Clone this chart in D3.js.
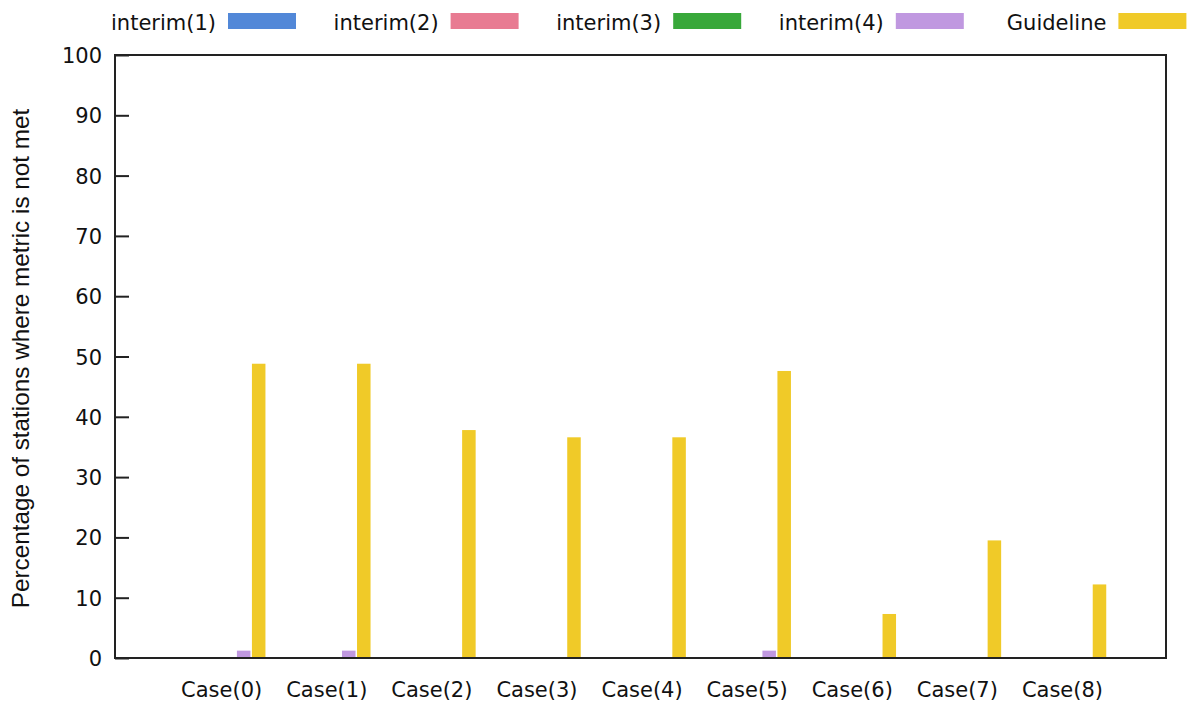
<!DOCTYPE html>
<html>
<head>
<meta charset="utf-8">
<script src="https://cdn.jsdelivr.net/npm/d3@7"></script>
<style>
  html, body { margin: 0; padding: 0; background: #fff; }
  svg { display: block; }
  text { fill: #111; }
</style>
</head>
<body>
<svg id="chart" width="1191" height="706"></svg>
<script>
// Categories along the x axis
const categories = ["Case(0)", "Case(1)", "Case(2)", "Case(3)", "Case(4)", "Case(5)", "Case(6)", "Case(7)", "Case(8)"];

// Series names and their values (percent of stations where metric is not met)
const seriesNames = ["interim(1)", "interim(2)", "interim(3)", "interim(4)", "Guideline"];
const interim1 = [0, 0, 0, 0, 0, 0, 0, 0, 0];
const interim2 = [0, 0, 0, 0, 0, 0, 0, 0, 0];
const interim3 = [0, 0, 0, 0, 0, 0, 0, 0, 0];
const interim4 = [1.22, 1.22, 0, 0, 0, 1.22, 0, 0, 0];
const guideline = [48.8, 48.8, 37.8, 36.6, 36.6, 47.6, 7.3, 19.5, 12.2];
const seriesValues = [interim1, interim2, interim3, interim4, guideline];
const seriesColors = ["#5288d8", "#e87b92", "#38a83a", "#c098e0", "#f0ca28"];

// Y axis tick labels
const yTicks = [0, 10, 20, 30, 40, 50, 60, 70, 80, 90, 100];

const svg = d3.select("#chart");
const plot = { left: 115, right: 1166, top: 55, bottom: 658 };

// Clustered histogram layout: each cluster occupies (series + gap) slots
const nSeries = seriesNames.length;
const gap = 2;
const clusterWidth = nSeries + gap;

// x range spans one extra cluster so the outer clusters get margin on both sides
const x = d3.scaleLinear()
  .domain([-7.07, (categories.length + 1) * clusterWidth - 7.07])
  .range([plot.left, plot.right]);

const y = d3.scaleLinear()
  .domain([0, 100])
  .range([plot.bottom, plot.top]);

const slot = x(1) - x(0);
const barW = slot * 0.9;

// Bars
seriesValues.forEach((vals, k) => {
  svg.append("g")
    .selectAll("rect")
    .data(vals.map((v, i) => ({ v, i })).filter(d => d.v > 0))
    .join("rect")
    .attr("x", d => x(d.i * clusterWidth + k - 1.5) - barW / 2)
    .attr("width", barW)
    .attr("y", d => y(d.v))
    .attr("height", d => y(0) - y(d.v))
    .attr("fill", seriesColors[k]);
});

// Y axis ticks (inward) and labels
const yAxis = d3.axisLeft(y)
  .tickValues(yTicks)
  .tickSize(-14)
  .tickPadding(0)
  .tickFormat(d3.format("d"));

const yg = svg.append("g")
  .attr("transform", `translate(${plot.left},0)`)
  .call(yAxis);
yg.select(".domain").remove();
yg.selectAll(".tick line").attr("stroke", "#222").attr("stroke-width", 2);
yg.selectAll(".tick text")
  .attr("x", -13)
  .attr("dy", "0.36em")
  .style("font-family", "'DejaVu Sans', sans-serif")
  .style("font-size", "21px")
  .attr("fill", "#111");

// X axis category labels
const xg = svg.append("g")
  .attr("transform", `translate(0,${plot.bottom})`)
  .call(d3.axisBottom(x)
    .tickValues(categories.map((c, i) => i * clusterWidth))
    .tickSize(0)
    .tickPadding(0)
    .tickFormat((d, i) => categories[i]));
xg.select(".domain").remove();
xg.selectAll(".tick text")
  .attr("y", 39)
  .attr("dy", 0)
  .style("font-family", "'DejaVu Sans', sans-serif")
  .style("font-size", "21px")
  .attr("fill", "#111");

// Plot border
svg.append("rect")
  .attr("x", plot.left)
  .attr("y", plot.top)
  .attr("width", plot.right - plot.left)
  .attr("height", plot.bottom - plot.top)
  .attr("fill", "none")
  .attr("stroke", "#222")
  .attr("stroke-width", 2);

// Y axis title
svg.append("text")
  .attr("transform", `translate(29,${(plot.top + plot.bottom) / 2 + 2}) rotate(-90)`)
  .attr("text-anchor", "middle")
  .style("font-family", "'Liberation Sans', Arial, sans-serif")
  .style("font-size", "24.3px")
  .text("Percentage of stations where metric is not met");

// Legend along the top
const legendStep = 222.6;
const legend = svg.append("g");
seriesNames.forEach((name, k) => {
  const x0 = 216 + k * legendStep;
  legend.append("text")
    .attr("x", x0)
    .attr("y", 30)
    .attr("text-anchor", "end")
    .style("font-family", "'DejaVu Sans', sans-serif")
    .style("font-size", "21px")
    .text(name);
  legend.append("rect")
    .attr("x", x0 + 12)
    .attr("y", 13)
    .attr("width", 68)
    .attr("height", 16)
    .attr("fill", seriesColors[k]);
});
</script>
</body>
</html>
